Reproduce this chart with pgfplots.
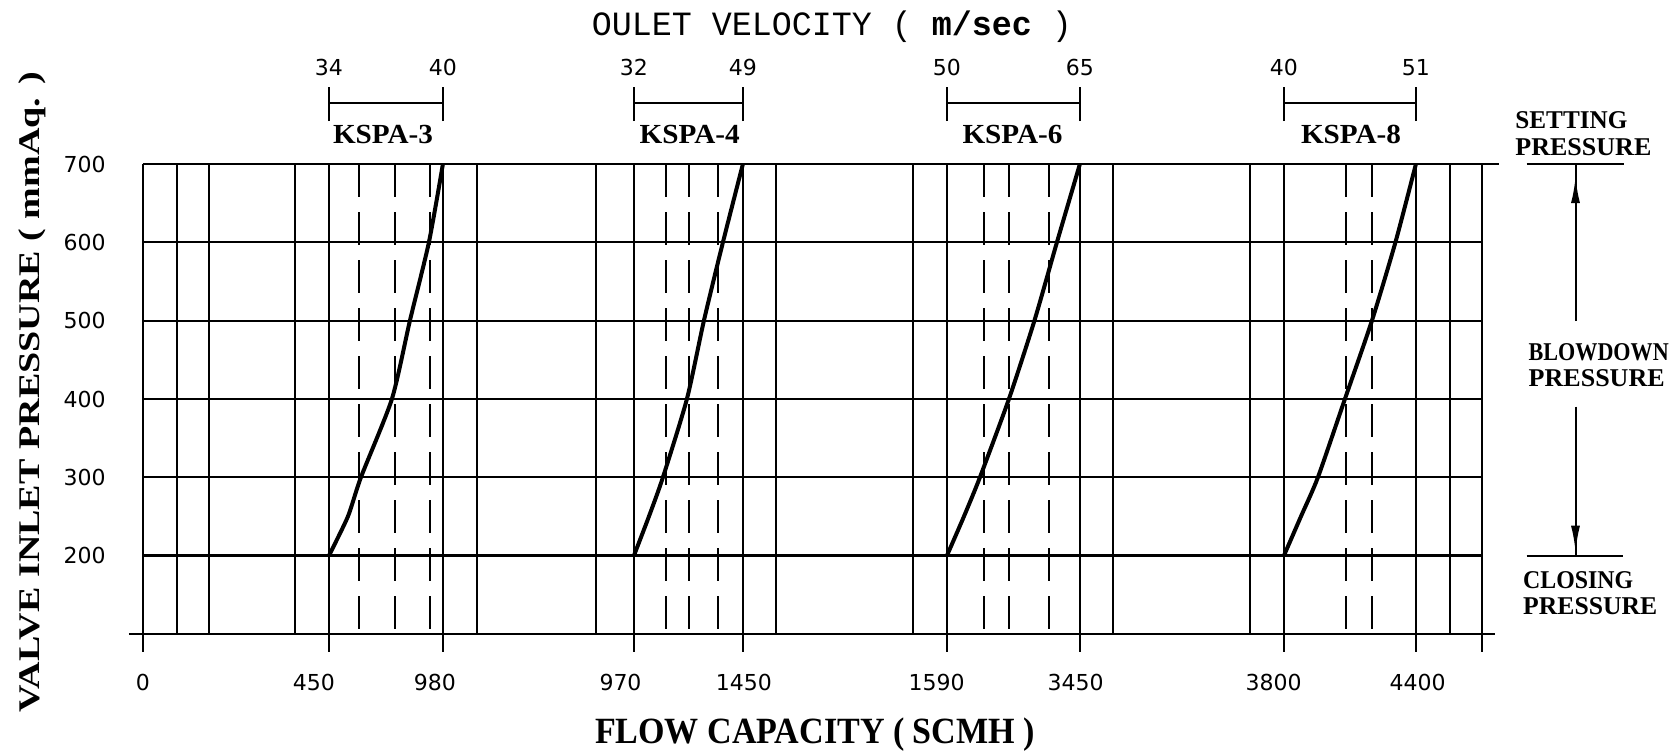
\documentclass[border=0pt]{standalone}
\usepackage{fontspec}
\setmainfont{Liberation Serif}
\newfontfamily\tickf{DejaVu Sans}
\newfontfamily\monof{Liberation Mono}
\usepackage{pgfplots}
\pgfplotsset{compat=1.18}
\usetikzlibrary{arrows.meta}
\newlength\fitlen
\newcommand\fitw[2]{\settowidth\fitlen{#2}\pgfmathsetmacro\fitsc{#1/\fitlen}\scalebox{\fitsc}[1]{#2}}
\newcommand\tk{\fontsize{11}{11}\tickf}
\newcommand\kl[1]{\fitw{50}{\fontsize{13.8}{13.8}\selectfont\bfseries #1}}
\newcommand\rl[2]{\fitw{#1}{\fontsize{12.8}{12.8}\selectfont\bfseries #2}}
\begin{document}
\begin{tikzpicture}
\path[use as bounding box] (-64.45pt,-58.52pt) rectangle (775.05pt,317.01pt);
\begin{axis}[
  at={(0pt,0pt)}, anchor=south west,
  x=0.5pt, y=0.391667pt,
  xmin=-14, xmax=1356, ymin=100, ymax=700,
  clip=false,
  axis line style={draw=none},
  tick style={draw=none},
  major tick length=0pt,
  xtick={0,171,292,477.6,601,793.8,932.8,1130.7,1274.7},
  xticklabels={0,450,980,970,1450,1590,3450,3800,4400},
  ytick={200,300,400,500,600,700},
  yticklabels={200,300,400,500,600,700},
  xticklabel style={font=\tk, anchor=base, inner sep=0pt, yshift=-28pt},
  yticklabel style={font=\tk, anchor=east, inner sep=0pt, xshift=-11.45pt},
]
% solid vertical grid lines
\pgfplotsinvokeforeach{0,34,66,152,186,300,334,453,491,600,633,770,804,937,970,1107,1141,1273,1307,1339}{
  \addplot[black, line width=1pt] coordinates {(#1,100) (#1,700)};
}
% dashed vertical lines
\pgfplotsinvokeforeach{216,252,287,523,546,575,841,866,906,1203,1229}{
  \addplot[black, line width=1pt, dash pattern=on 16.5pt off 7.5pt] coordinates {(#1,700) (#1,100)};
}
% horizontal lines
\pgfplotsinvokeforeach{300,400,500,600}{
  \addplot[black, line width=1pt] coordinates {(0,#1) (1339,#1)};
}
\addplot[black, line width=1.6pt] coordinates {(0,200) (1339,200)};
\addplot[black, line width=1pt] coordinates {(0,700) (1356,700)};
\addplot[black, line width=1pt] coordinates {(-14,100) (1352,100)};
% tick marks below the axis
\pgfplotsinvokeforeach{0,186,300,491,600,804,937,1141,1273,1339}{
  \addplot[black, line width=1pt] coordinates {(#1,100) (#1,77)};
}
% curves
\addplot[black, line width=2pt, smooth, tension=0.4] coordinates {(186,200) (205,250) (218,300) (249,400) (267,500) (286,600) (300,700)};
\addplot[black, line width=2pt, smooth, tension=0.4] coordinates {(491,200) (506,250) (520,300) (544,400) (561,500) (580,600) (600,700)};
\addplot[black, line width=2pt, smooth, tension=0.4] coordinates {(804,200) (821,250) (837,300) (866,400) (891.5,500) (914,600) (937,700)};
\addplot[black, line width=2pt, smooth, tension=0.4] coordinates {(1141,200) (1158,250) (1175,300) (1202,400) (1229,500) (1252.5,600) (1273,700)};
% velocity brackets
\addplot[black, line width=1pt] coordinates {(186,778.3) (300,778.3)};
\addplot[black, line width=1pt] coordinates {(491,778.3) (600,778.3)};
\addplot[black, line width=1pt] coordinates {(804,778.3) (937,778.3)};
\addplot[black, line width=1pt] coordinates {(1141,778.3) (1273,778.3)};
\pgfplotsinvokeforeach{186,300,491,600,804,937,1141,1273}{
  \addplot[black, line width=1pt] coordinates {(#1,754.9) (#1,798.3)};
}
\node[anchor=base] at (axis cs:186,813.6) {\tk 34};
\node[anchor=base] at (axis cs:300,813.6) {\tk 40};
\node[anchor=base] at (axis cs:491,813.6) {\tk 32};
\node[anchor=base] at (axis cs:600,813.6) {\tk 49};
\node[anchor=base] at (axis cs:804,813.6) {\tk 50};
\node[anchor=base] at (axis cs:937,813.6) {\tk 65};
\node[anchor=base] at (axis cs:1141,813.6) {\tk 40};
\node[anchor=base] at (axis cs:1273,813.6) {\tk 51};
\node[anchor=base] at (axis cs:240.1,726.4) {\kl{KSPA-3}};
\node[anchor=base] at (axis cs:546.8,726.4) {\kl{KSPA-4}};
\node[anchor=base] at (axis cs:869.6,726.4) {\kl{KSPA-6}};
\node[anchor=base] at (axis cs:1208.1,726.4) {\kl{KSPA-8}};
% right side annotations
\node[anchor=base west, inner sep=0pt] at (axis cs:1372.1,745.5) {\rl{56}{SETTING}};
\node[anchor=base west, inner sep=0pt] at (axis cs:1372.1,711.5) {\rl{68}{PRESSURE}};
\node[anchor=base west, inner sep=0pt] at (axis cs:1385.4,449.8) {\rl{70}{BLOWDOWN}};
\node[anchor=base west, inner sep=0pt] at (axis cs:1385.4,416.6) {\rl{68}{PRESSURE}};
\node[anchor=base west, inner sep=0pt] at (axis cs:1379.9,158.3) {\rl{55}{CLOSING}};
\node[anchor=base west, inner sep=0pt] at (axis cs:1379.9,124.3) {\rl{67}{PRESSURE}};
\draw[line width=1pt] (axis cs:1383.8,700) -- (axis cs:1481.5,700);
\draw[line width=1pt] (axis cs:1383.6,200) -- (axis cs:1479.6,200);
\draw[line width=1pt] (axis cs:1432.6,499.6) -- (axis cs:1432.6,700);
\draw[line width=1pt, -{Latex[length=13pt,width=4.5pt]}] (axis cs:1432.6,620) -- (axis cs:1432.6,683.4);
\draw[line width=1pt] (axis cs:1432.6,390.2) -- (axis cs:1432.6,200);
\draw[line width=1pt, -{Latex[length=13pt,width=4.5pt]}] (axis cs:1432.6,280) -- (axis cs:1432.6,205.1);
% titles
\node[anchor=base] at (axis cs:688.9,864.7) {\fitw{240}{\fontsize{17}{17}\monof OULET VELOCITY ( {\bfseries m/sec} )}};
\node[anchor=base] at (axis cs:672.1,-39.5) {\fitw{220}{\fontsize{18.5}{18.5}\selectfont\bfseries FLOW CAPACITY ( SCMH )}};
\node[anchor=base, rotate=90] at (axis cs:-102.9,408.9) {\fitw{320}{\fontsize{15}{15}\selectfont\bfseries VALVE INLET PRESSURE ( mmAq. )}};
\end{axis}
\end{tikzpicture}
\end{document}
